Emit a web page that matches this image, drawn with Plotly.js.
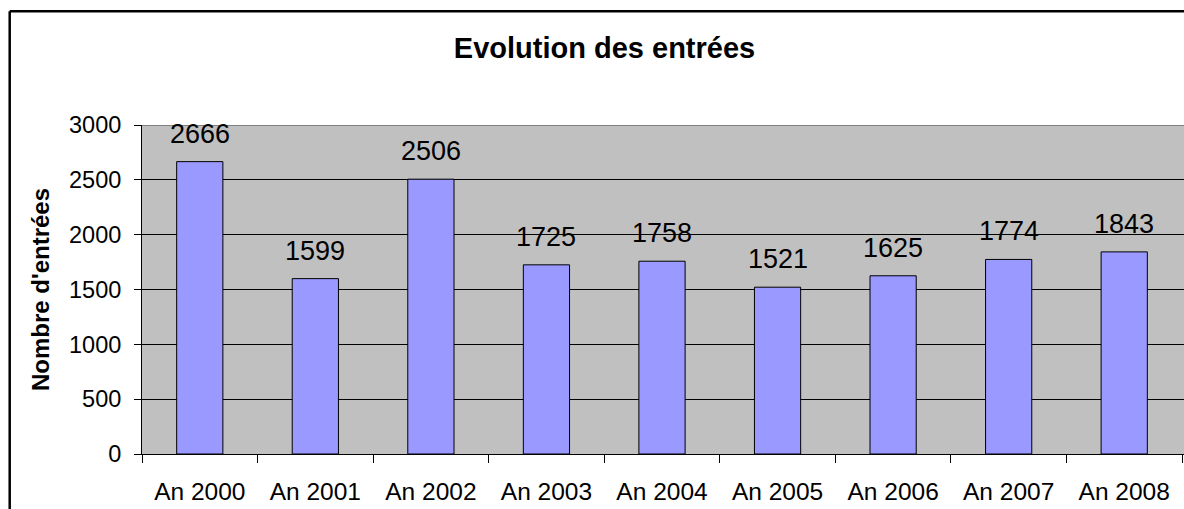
<!DOCTYPE html>
<html>
<head>
<meta charset="utf-8">
<script src="https://cdn.plot.ly/plotly-3.0.1.min.js"></script>
<style>
html,body{margin:0;padding:0;background:#fff;}
#chart{width:1184px;height:509px;}
</style>
</head>
<body>
<div id="chart"></div>
<script>
const categories = ["An 2000","An 2001","An 2002","An 2003","An 2004","An 2005","An 2006","An 2007","An 2008"];
const entrees = [2666, 1599, 2506, 1725, 1758, 1521, 1625, 1774, 1843];
const yTicks = [0, 500, 1000, 1500, 2000, 2500, 3000];

const trace = {
  type: "bar",
  x: categories,
  y: entrees,
  width: 0.4,
  marker: {color: "#9999FF", line: {color: "#000000", width: 1}},
  hoverinfo: "x+y"
};

const annotations = categories.map((c, i) => ({
  x: c, y: entrees[i], xref: "x", yref: "y",
  text: String(entrees[i]), showarrow: false,
  yanchor: "bottom", yshift: 11,
  font: {family: "Liberation Sans, Arial, sans-serif", size: 27, color: "#000"}
}));

const W = 1042, H = 329, L = 142, B = 454;
const px = v => (v - L) / W;
const py = v => (B - v) / H;

const layout = {
  width: 1184, height: 509,
  margin: {l: 142, r: 0, t: 125, b: 55, pad: 0},
  paper_bgcolor: "#ffffff",
  plot_bgcolor: "#C0C0C0",
  showlegend: false,
  font: {family: "Liberation Sans, Arial, sans-serif", color: "#000"},
  title: {
    text: "<b>Evolution des entrées</b>",
    font: {family: "Liberation Sans, Arial, sans-serif", size: 29, color: "#000"},
    xref: "container", x: 604.5 / 1184, xanchor: "center",
    yref: "container", y: 1 - 48 / 509, yanchor: "middle"
  },
  xaxis: {
    type: "category",
    range: [-0.5, 8.5 + 2 / 116],
    tickson: "boundaries",
    ticks: "outside", ticklen: 8, tickwidth: 1, tickcolor: "#000",
    showline: true, linecolor: "#000", linewidth: 1,
    showgrid: false, zeroline: false,
    tickfont: {size: 24.5, color: "#000"},
    ticklabelstandoff: 16,
    fixedrange: true
  },
  yaxis: {
    range: [0, 3000],
    tickvals: yTicks,
    ticktext: yTicks.map(String),
    ticks: "outside", ticklen: 7, tickwidth: 1, tickcolor: "#000",
    showline: true, linecolor: "#000", linewidth: 1,
    showgrid: true, gridcolor: "#000", gridwidth: 1,
    zeroline: false,
    tickfont: {size: 23.5, color: "#000"},
    ticklabelstandoff: 8,
    title: {
      text: "<b>Nombre d'entrées</b>",
      font: {size: 24, color: "#000"},
      standoff: 12
    },
    fixedrange: true
  },
  annotations: annotations,
  shapes: [
    {type: "line", xref: "paper", yref: "y", x0: 0, x1: 1.01, y0: 3000, y1: 3000,
     line: {color: "#808080", width: 2}, layer: "above"},
    {type: "line", xref: "paper", yref: "paper", x0: px(9.7), x1: px(9.7), y0: py(11.3), y1: py(520),
     line: {color: "#000", width: 2.5}, layer: "above"},
    {type: "line", xref: "paper", yref: "paper", x0: px(9.7), x1: px(1200), y0: py(11.3), y1: py(11.3),
     line: {color: "#000", width: 2.5}, layer: "above"}
  ]
};

Plotly.newPlot("chart", [trace], layout, {displayModeBar: false, staticPlot: true});
</script>
</body>
</html>
